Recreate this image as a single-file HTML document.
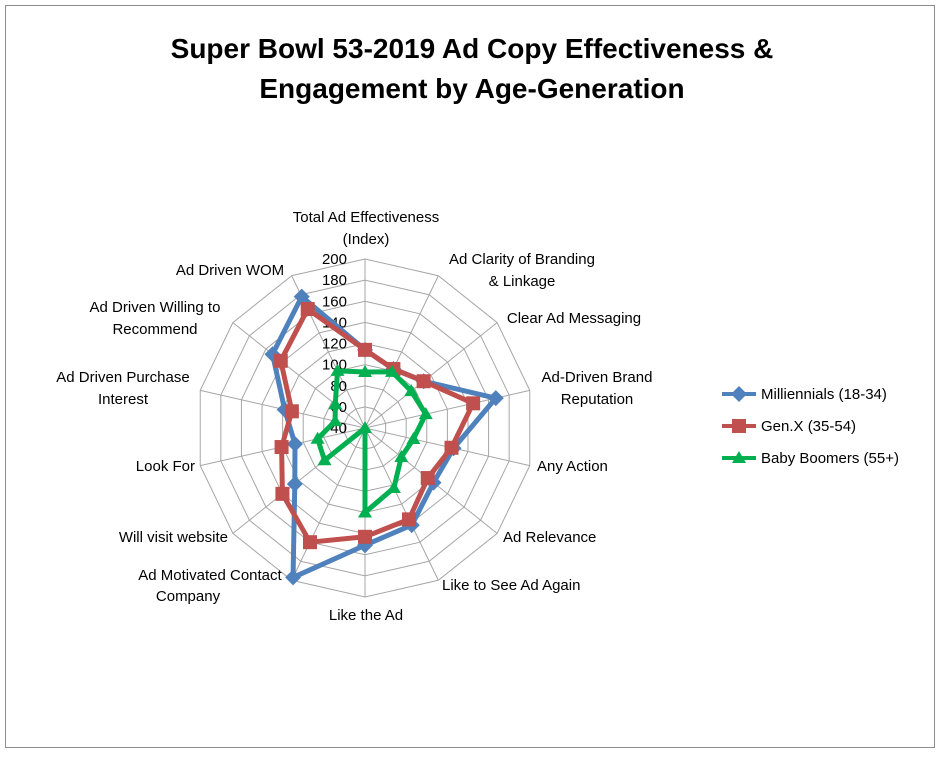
<!DOCTYPE html>
<html><head><meta charset="utf-8"><style>
body{margin:0;background:#fff}
svg text{font-family:"Liberation Sans",Arial,sans-serif;fill:#000}
</style></head><body>
<svg id="s" width="941" height="754" xmlns="http://www.w3.org/2000/svg">
<rect x="5.5" y="5.5" width="929" height="742" fill="#fff" stroke="#8c8c8c"/>
<text x="472" y="58" text-anchor="middle" font-size="28" font-weight="bold">Super Bowl 53-2019 Ad Copy Effectiveness &amp;</text>
<text x="472" y="98" text-anchor="middle" font-size="28" font-weight="bold">Engagement by Age-Generation</text>
<g id="grid"></g><g id="scale" font-size="15"></g><g id="ser"></g>
<g font-size="15">
<text x="366" y="222" text-anchor="middle">Total Ad Effectiveness</text>
<text x="366" y="244" text-anchor="middle">(Index)</text>
<text x="522" y="264" text-anchor="middle">Ad Clarity of Branding</text>
<text x="522" y="286" text-anchor="middle">&amp; Linkage</text>
<text x="574" y="323" text-anchor="middle">Clear Ad Messaging</text>
<text x="597" y="382" text-anchor="middle">Ad-Driven Brand</text>
<text x="597" y="404" text-anchor="middle">Reputation</text>
<text x="537" y="471">Any Action</text>
<text x="503" y="542">Ad Relevance</text>
<text x="442" y="590">Like to See Ad Again</text>
<text x="366" y="620" text-anchor="middle">Like the Ad</text>
<text x="210" y="580" text-anchor="middle">Ad Motivated Contact</text>
<text x="188" y="601" text-anchor="middle">Company</text>
<text x="228" y="542" text-anchor="end">Will visit website</text>
<text x="195" y="471" text-anchor="end">Look For</text>
<text x="123" y="382" text-anchor="middle">Ad Driven Purchase</text>
<text x="123" y="404" text-anchor="middle">Interest</text>
<text x="155" y="312" text-anchor="middle">Ad Driven Willing to</text>
<text x="155" y="334" text-anchor="middle">Recommend</text>
<text x="230" y="275" text-anchor="middle">Ad Driven WOM</text>
</g>
<g id="leg" font-size="15"></g>
</svg>
<script>
var cx=365,cy=428,R=169,N=14,ns="http://www.w3.org/2000/svg";
function pt(i,v){var a=i*2*Math.PI/N,r=(v-40)/160*R;return [cx+r*Math.sin(a),cy-r*Math.cos(a)];}
function el(t,at,p){var e=document.createElementNS(ns,t);for(var k in at)e.setAttribute(k,at[k]);document.getElementById(p).appendChild(e);return e;}
for(var v=60;v<=200;v+=20){var s=[];for(var i=0;i<N;i++)s.push(pt(i,v).join(","));el("polygon",{points:s.join(" "),fill:"none",stroke:"#a6a6a6","stroke-width":1},"grid");}
for(var i=0;i<N;i++){var p=pt(i,200);el("line",{x1:cx,y1:cy,x2:p[0],y2:p[1],stroke:"#a6a6a6"},"grid");}
for(var v=40;v<=200;v+=20){var t=el("text",{x:347,y:cy-(v-40)/160*R+5,"text-anchor":"end"},"scale");t.textContent=v;}
var S=[
 {c:"#4f81bd",m:"d",d:[114,102,111,167,126,123,142,151,197,125,108,118,152,178],n:"Milliennials (18-34)"},
 {c:"#c0504d",m:"s",d:[114,102,111,145,124,116,136,143,160,140,121,111,142,165],n:"Gen.X (35-54)"},
 {c:"#00b050",m:"t",d:[93,99,96,99,87,84,103,120,40,89,86,69,76,100],n:"Baby Boomers (55+)"}];
function mk(m,x,y,c,g){
 if(m=="d")el("polygon",{points:[x,y-8,x+8,y,x,y+8,x-8,y].join(","),fill:c},g);
 else if(m=="s")el("rect",{x:x-7,y:y-7,width:14,height:14,fill:c},g);
 else el("polygon",{points:[x,y-7,x+7,y+5,x-7,y+5].join(","),fill:c},g);}
S.forEach(function(s,k){var P=s.d.map(function(v,i){return pt(i,v);});
 el("polygon",{points:P.map(function(p){return p.join(",")}).join(" "),fill:"none",stroke:s.c,"stroke-width":5,"stroke-linejoin":"round"},"ser");
 P.forEach(function(p){mk(s.m,p[0],p[1],s.c,"ser");});
 var y=394+k*32;el("line",{x1:722,y1:y,x2:756,y2:y,stroke:s.c,"stroke-width":4},"leg");mk(s.m,739,y,s.c,"leg");
 var t=el("text",{x:761,y:y+5},"leg");t.textContent=s.n;});
</script>
</body></html>
